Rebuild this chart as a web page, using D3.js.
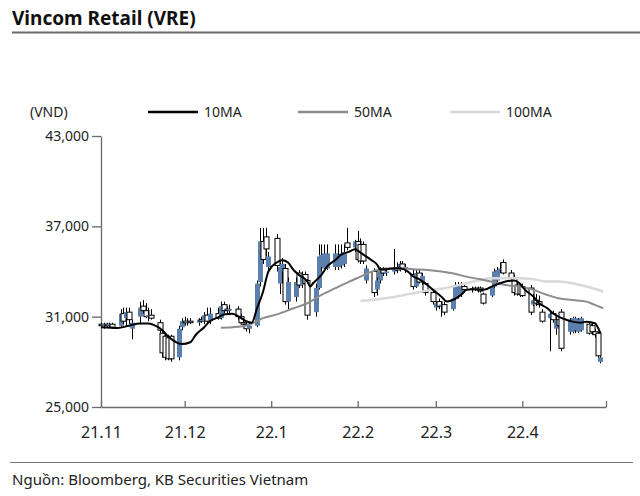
<!DOCTYPE html>
<html><head><meta charset="utf-8">
<script src="https://cdn.jsdelivr.net/npm/d3@7"></script>
<style>
html,body{margin:0;padding:0;background:#fff;}
svg{display:block;font-family:"Noto Sans",sans-serif;}
</style></head><body>
<svg id="c" width="640" height="496"></svg>
<script>
// ---- data (VND) ----
const dates = [
"2021-11-01","2021-11-02","2021-11-03","2021-11-04","2021-11-05",
"2021-11-08","2021-11-09","2021-11-10","2021-11-11","2021-11-12",
"2021-11-15","2021-11-16","2021-11-17","2021-11-18","2021-11-19",
"2021-11-22","2021-11-23","2021-11-24","2021-11-25","2021-11-26",
"2021-11-29","2021-11-30","2021-12-01","2021-12-02","2021-12-03",
"2021-12-06","2021-12-07","2021-12-08","2021-12-09","2021-12-10",
"2021-12-13","2021-12-14","2021-12-15","2021-12-16","2021-12-17",
"2021-12-20","2021-12-21","2021-12-22","2021-12-23","2021-12-24",
"2021-12-27","2021-12-28","2021-12-29","2021-12-30","2021-12-31",
"2022-01-03","2022-01-04","2022-01-05","2022-01-06","2022-01-07",
"2022-01-10","2022-01-11","2022-01-12","2022-01-13","2022-01-14",
"2022-01-17","2022-01-18","2022-01-19","2022-01-20","2022-01-21",
"2022-01-24","2022-01-25","2022-01-26","2022-01-27","2022-01-28",
"2022-01-31","2022-02-01","2022-02-02","2022-02-03","2022-02-04",
"2022-02-07","2022-02-08","2022-02-09","2022-02-10","2022-02-11",
"2022-02-14","2022-02-15","2022-02-16","2022-02-17","2022-02-18",
"2022-02-21","2022-02-22","2022-02-23","2022-02-24","2022-02-25",
"2022-02-28","2022-03-01","2022-03-02","2022-03-03","2022-03-04",
"2022-03-07","2022-03-08","2022-03-09","2022-03-10","2022-03-11",
"2022-03-14","2022-03-15","2022-03-16","2022-03-17","2022-03-18",
"2022-03-21","2022-03-22","2022-03-23","2022-03-24","2022-03-25",
"2022-03-28","2022-03-29","2022-03-30","2022-03-31","2022-04-01",
"2022-04-04","2022-04-05","2022-04-06","2022-04-07","2022-04-08",
"2022-04-11","2022-04-12","2022-04-13","2022-04-14","2022-04-15",
"2022-04-18","2022-04-19","2022-04-20","2022-04-21","2022-04-22",
"2022-04-25","2022-04-26","2022-04-27","2022-04-28","2022-04-29"];

const open = [
30500,30400,30500,30400,30500, 30400,31200,30900,31300,30200,
31000,31700,31400,31000,31100, 30600,29900,29700,29600,29700,
28300,30300,30700,30600,30700, 30600,30800,30700,31100,30700,
31200,30900,31800,31500,31400, 31500,31000,30600,30500,30200,
30400,33300,36000,36300,34300, 36200,33200,34000,34200,32000,
32300,33900,33100,33800,33400, 31300,32900,34300,34200,34200,
34300,34300,34400,34500,35900, 35600,36000,35800,35800,33400,
34000,32800,33400,34100,33900, 34000,34200,34100,34500,34200,
33800,33000,33900,33300,33200, 32600,31600,32000,31700,31800,
31500,32200,32400,32500,33000, 32800,32900,32800,32900,32500,
32400,33000,33400,34100,34600, 33900,33600,33100,33000,33000,
32900,31800,32100,32000,31300, 30900,31200,30200,30800,31300,
30000,30000,30100,30000,30100, 30500,30400,30000,29900,28000];

const high = [
30600,30600,30600,30600,30600, 31500,31600,31600,31600,30800,
32000,32100,31900,31600,31500, 30800,30100,29900,29800,29800,
30400,30900,31000,30900,30900, 30900,31000,31300,31600,31600,
31600,32000,32000,31700,31800, 31700,31200,30900,30700,30600,
33400,36900,36900,36900,35300, 36500,34600,34900,34500,33600,
33600,34100,34000,34000,33500, 33200,35800,35800,35800,35800,
35800,35800,35800,35800,36900, 36100,36700,36200,36000,34400,
34200,33600,34300,34300,34200, 35500,34600,34700,34700,34500,
34100,34100,34100,33900,33300, 32800,32000,32200,32000,32000,
32400,33300,33300,33300,33200, 33000,33000,33000,33000,32600,
33100,34200,34300,34600,34800, 34100,33800,33300,33200,33200,
33100,32500,32500,32400,31500, 31400,31400,31000,31100,31500,
30900,31000,31000,30900,31000, 30700,30600,30200,30000,28400];

const low = [
30300,30200,30300,30300,30200, 30300,30500,30400,30500,29500,
30500,31200,30900,30700,30800, 29900,28300,28100,28100,28000,
28100,30100,30400,30400,30500, 30400,30600,30500,30500,30500,
30800,30800,31200,31200,31100, 30800,30500,30300,30000,29900,
30300,33000,34500,35000,34000, 34000,32500,33200,31800,31500,
32000,32900,32900,33000,30800, 31000,32800,34000,34000,34100,
34100,34100,34200,34300,35400, 35300,34600,34500,34500,33200,
32300,32400,33200,33700,33700, 33800,33900,34000,34100,33900,
32800,32900,33200,33100,32400, 31800,31400,31500,31000,31100,
31400,32100,32200,32300,32600, 32600,32700,32600,32600,31800,
32300,32900,33300,33900,33800, 33400,32400,32400,32300,32300,
31100,31700,31700,31600,30600, 28700,30600,29800,30000,28700,
29800,29900,29900,29900,30000, 29800,29800,29600,28200,27900];

const close = [
30400,30500,30400,30500,30300, 31200,30700,31300,30800,30600,
31600,31400,31000,31100,30900, 30100,28600,28300,28200,28200,
30200,30700,30600,30700,30600, 30800,30700,31100,30700,31200,
30900,31700,31400,31400,31500, 31000,30600,30500,30200,30400,
33200,36000,34800,35500,35000, 34400,34300,34500,32000,33300,
33300,33100,33800,33200,31100, 32900,35000,35100,35200,35200,
35200,35100,35200,35300,35600, 36000,34800,34700,34700,34200,
32600,33400,34100,33900,34000, 34200,34100,34500,34200,34300,
33000,33900,33300,33700,32600, 32000,31900,31700,31800,31300,
32200,33000,33000,33000,32800, 32900,32800,32900,32700,31900,
33000,34000,34100,34200,33900, 33600,32600,32500,32500,32400,
31300,32100,31900,31800,30700, 31200,30800,30800,30400,28900,
30800,30900,30900,30800,30900, 29900,30000,29800,28400,28300];

const ma10Dates = ["2021-11-01","2021-11-07","2021-11-11","2021-11-15","2021-11-18","2021-11-21","2021-11-23","2021-11-25","2021-11-28","2021-11-30","2021-12-03","2021-12-05","2021-12-08","2021-12-10","2021-12-13","2021-12-15","2021-12-18","2021-12-20","2021-12-23","2021-12-25","2021-12-27","2021-12-29","2021-12-31","2022-01-03","2022-01-05","2022-01-07","2022-01-09","2022-01-11","2022-01-14","2022-01-15","2022-01-16","2022-01-19","2022-01-21","2022-01-24","2022-01-26","2022-01-29","2022-01-31","2022-02-02","2022-02-04","2022-02-06","2022-02-08","2022-02-09","2022-02-11","2022-02-14","2022-02-16","2022-02-19","2022-02-21","2022-02-23","2022-02-26","2022-02-28","2022-03-03","2022-03-05","2022-03-07","2022-03-10","2022-03-12","2022-03-14","2022-03-17","2022-03-19","2022-03-21","2022-03-24","2022-03-26","2022-03-29","2022-03-31","2022-04-02","2022-04-05","2022-04-07","2022-04-10","2022-04-12","2022-04-14","2022-04-17","2022-04-19","2022-04-22","2022-04-24","2022-04-27","2022-04-29"];
const ma10 = [30300,30250,30400,30550,30550,30350,30100,29700,29300,29180,29300,29800,30300,30700,30950,31150,31200,31050,30700,30600,31600,32600,34000,34600,34750,34600,34100,33770,33320,33000,33220,33770,34320,34770,35100,35320,35480,35250,35000,34750,34450,34150,34150,34220,34220,33990,33660,33500,33100,32780,32330,32000,32110,32440,32780,32820,32780,32820,33000,33220,33330,33400,33220,32780,32330,31890,31560,31230,31000,30780,30670,30600,30670,30560,29900];

const ma50Dates = ["2021-12-14","2021-12-18","2021-12-24","2021-12-29","2022-01-03","2022-01-09","2022-01-14","2022-01-19","2022-01-24","2022-01-29","2022-02-02","2022-02-06","2022-02-11","2022-02-16","2022-02-21","2022-02-26","2022-03-03","2022-03-07","2022-03-12","2022-03-17","2022-03-21","2022-03-26","2022-03-31","2022-04-05","2022-04-10","2022-04-14","2022-04-19","2022-04-24","2022-04-27","2022-04-30"];
const ma50 = [30270,30300,30450,30900,31150,31560,31890,32440,32890,33330,33660,33990,34200,34220,34150,34100,34000,33880,33660,33480,33320,33100,33000,32780,32440,32220,32110,32000,31780,31560];

const ma100Dates = ["2022-02-02","2022-02-06","2022-02-11","2022-02-16","2022-02-21","2022-02-26","2022-03-03","2022-03-07","2022-03-12","2022-03-17","2022-03-21","2022-03-26","2022-03-31","2022-04-05","2022-04-10","2022-04-14","2022-04-19","2022-04-24","2022-04-30"];
const ma100 = [32040,32110,32220,32380,32560,32730,32850,33000,33220,33440,33550,33550,33550,33480,33330,33330,33220,33000,32670];

const yTicks = [25000,31000,37000,43000];
const monthTicks = ["2021-11-01","2021-12-01","2022-01-01","2022-02-01","2022-03-01","2022-04-01","2022-05-01"];
const monthLabels = ["21.11","21.12","22.1","22.2","22.3","22.4",""];

// ---- drawing ----
const parse = d3.timeParse("%Y-%m-%d");
const svg = d3.select("#c");
const x = d3.scaleTime().domain([parse("2021-11-01"), parse("2022-05-01")]).range([101, 606]);
const y = d3.scaleLinear().domain([25000, 43000]).range([407, 136]);

// title
svg.append("text").attr("x", 12).attr("y", 25).attr("font-size", 19).attr("font-weight", "bold")
  .attr("fill", "#111").text("Vincom Retail (VRE)");
svg.append("line").attr("x1", 12).attr("x2", 640).attr("y1", 32.5).attr("y2", 32.5)
  .attr("stroke", "#6b6b6b").attr("stroke-width", 2);

// footer
svg.append("line").attr("x1", 10).attr("x2", 633).attr("y1", 462.5).attr("y2", 462.5)
  .attr("stroke", "#777").attr("stroke-width", 1);
svg.append("text").attr("x", 12).attr("y", 485).attr("font-size", 15).attr("fill", "#222")
  .text("Nguồn: Bloomberg, KB Securities Vietnam");

// unit + legend
svg.append("text").attr("x", 30).attr("y", 117).attr("font-size", 14).attr("fill", "#222").text("(VND)");
const legend = [
  {name: "10MA", color: "#000", x: 148},
  {name: "50MA", color: "#8c8c8c", x: 298},
  {name: "100MA", color: "#d9d9d9", x: 450}
];
legend.forEach(l => {
  svg.append("line").attr("x1", l.x).attr("x2", l.x + 50).attr("y1", 112).attr("y2", 112)
    .attr("stroke", l.color).attr("stroke-width", 2.5);
  svg.append("text").attr("x", l.x + 56).attr("y", 117).attr("font-size", 14).attr("fill", "#222").text(l.name);
});

// axes
const yAxis = d3.axisLeft(y).tickValues(yTicks).tickFormat(d3.format(",")).tickSize(9).tickSizeOuter(0).tickPadding(3);
const gy = svg.append("g").attr("transform", "translate(101,0)").call(yAxis);
const xAxis = d3.axisBottom(x).tickValues(monthTicks.map(parse))
  .tickFormat((d, i) => monthLabels[i]).tickSizeInner(-6).tickSizeOuter(0).tickPadding(20);
const gx = svg.append("g").attr("transform", "translate(0,407)").call(xAxis);
[gx, gy].forEach(g => {
  g.selectAll("path.domain").attr("stroke", "#6b6b6b").attr("stroke-width", 1.3);
  g.selectAll(".tick line").attr("stroke", "#6b6b6b").attr("stroke-width", 1.3);
  g.selectAll(".tick text").attr("fill", "#222").attr("font-family", "Noto Sans, sans-serif");
});
gy.selectAll(".tick text").attr("font-size", 14);
gx.selectAll(".tick text").attr("font-size", 16).attr("dy", "0.71em");

// candles
const rows = dates.map((d, i) => ({d: parse(d), o: open[i], h: high[i], l: low[i], c: close[i]}));
const cg = svg.append("g");
rows.forEach(r => {
  const cx = Math.round(x(r.d));
  cg.append("line").attr("x1", cx + 0.5).attr("x2", cx + 0.5).attr("y1", y(r.h)).attr("y2", y(r.l))
    .attr("stroke", "#000").attr("stroke-width", 1);
  const top = y(Math.max(r.o, r.c)), bot = y(Math.min(r.o, r.c));
  const up = r.c >= r.o;
  cg.append("rect").attr("x", cx - 2).attr("y", top).attr("width", 5).attr("height", Math.max(1, bot - top))
    .attr("fill", up ? "#5b80ad" : "#fff")
    .attr("stroke", up ? "none" : "#000").attr("stroke-width", 1);
});

// moving averages
function drawMA(ds, vs, color, w) {
  const pts = ds.map((d, i) => [x(parse(d)), y(vs[i])]);
  svg.append("path").attr("d", d3.line().curve(d3.curveMonotoneX)(pts))
    .attr("fill", "none").attr("stroke", color).attr("stroke-width", w);
}
drawMA(ma100Dates, ma100, "#d9d9d9", 2.5);
drawMA(ma50Dates, ma50, "#8c8c8c", 2);
drawMA(ma10Dates, ma10, "#000", 2);
</script>
</body></html>
